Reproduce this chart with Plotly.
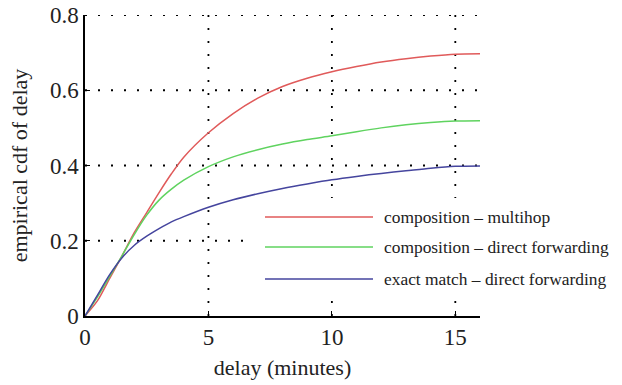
import plotly.graph_objects as go

delay = [0, 0.5, 1, 1.5, 2, 2.5, 3, 3.5, 4, 5, 6, 7, 8, 9, 10, 11, 12, 13, 14, 15, 16]
comp_multihop = [0, 0.04, 0.10, 0.16, 0.222, 0.275, 0.328, 0.378, 0.422, 0.487, 0.538, 0.579, 0.61, 0.632, 0.649, 0.663, 0.675, 0.684, 0.691, 0.696, 0.697]
comp_direct = [0, 0.05, 0.105, 0.16, 0.217, 0.268, 0.308, 0.337, 0.361, 0.397, 0.423, 0.442, 0.457, 0.469, 0.479, 0.49, 0.5, 0.508, 0.514, 0.518, 0.519]
exact_direct = [0, 0.055, 0.11, 0.155, 0.188, 0.212, 0.232, 0.25, 0.264, 0.289, 0.309, 0.325, 0.339, 0.351, 0.362, 0.371, 0.379, 0.386, 0.393, 0.398, 0.399]

x_ticks = [0, 5, 10, 15]
y_ticks = [0, 0.2, 0.4, 0.6, 0.8]
y_ticktext = ["0", "0.2", "0.4", "0.6", "0.8"]

names = ["composition \u2013 multihop", "composition \u2013 direct forwarding", "exact match \u2013 direct forwarding"]
colors = ["#e05a5a", "#5fd35f", "#45459e"]
series = [comp_multihop, comp_direct, exact_direct]

FONT = "Liberation Serif"
X_RANGE = [0, 16]
Y_RANGE = [0, 0.8]

fig = go.Figure()
for name, ys, c in zip(names, series, colors):
    fig.add_trace(go.Scatter(x=delay, y=ys, mode="lines", name=name,
                             line=dict(color=c, width=1.5, shape="spline", smoothing=0.8),
                             showlegend=False))

W, H = 622, 385
ml, mr, mt, mb = 85, 142, 15, 69
pw, ph = W - ml - mr, H - mt - mb

def px_x(p):
    return (p - ml) / pw

def px_y(p):
    return (H - mb - p) / ph

# dotted grid (sparse dots like the original)
grid_line = dict(color="black", width=1.8, dash="2px,11px")
for xv in x_ticks:
    if xv > X_RANGE[0]:
        fig.add_shape(type="line", xref="x", yref="paper", x0=xv, x1=xv, y0=0, y1=1,
                      line=grid_line, layer="below")
for yv in y_ticks:
    if yv > Y_RANGE[0]:
        fig.add_shape(type="line", xref="paper", yref="y", x0=0, x1=1, y0=yv, y1=yv,
                      line=grid_line, layer="below")

# legend box (white, covering gridlines)
fig.add_shape(type="rect", xref="paper", yref="paper",
              x0=px_x(250), x1=px_x(618), y0=px_y(297), y1=px_y(198),
              fillcolor="white", line=dict(width=0), layer="below")
leg_y = [217, 247, 279]
for name, c, yy in zip(names, colors, leg_y):
    fig.add_shape(type="line", xref="paper", yref="paper",
                  x0=px_x(265), x1=px_x(373), y0=px_y(yy), y1=px_y(yy),
                  line=dict(color=c, width=1.5), layer="above")
    fig.add_annotation(xref="paper", yref="paper", x=px_x(382), y=px_y(yy),
                       text=name, showarrow=False, xanchor="left", yanchor="middle",
                       font=dict(family=FONT, size=17.4, color="#222"))

fig.update_xaxes(range=X_RANGE, tickvals=x_ticks, ticks="inside", ticklen=5,
                 tickcolor="black", showline=True, linecolor="black", linewidth=1.5,
                 showgrid=False, zeroline=False, automargin=False,
                 tickfont=dict(family=FONT, size=23, color="#222"),
                 title=dict(text="delay (minutes)", font=dict(family=FONT, size=22, color="#222"), standoff=10))
fig.update_yaxes(range=Y_RANGE, tickvals=y_ticks, ticktext=y_ticktext,
                 ticks="inside", ticklen=5,
                 tickcolor="black", showline=True, linecolor="black", linewidth=1.5,
                 showgrid=False, zeroline=False, automargin=False,
                 tickfont=dict(family=FONT, size=23, color="#222"),
                 title=dict(text="empirical cdf of delay", font=dict(family=FONT, size=22, color="#222"), standoff=16))

fig.update_layout(width=W, height=H, margin=dict(l=ml, r=mr, t=mt, b=mb),
                  plot_bgcolor="white", paper_bgcolor="white", showlegend=False)

fig.write_html("out.html", config={"displayModeBar": False},
               post_script="document.body.style.margin='0';")
